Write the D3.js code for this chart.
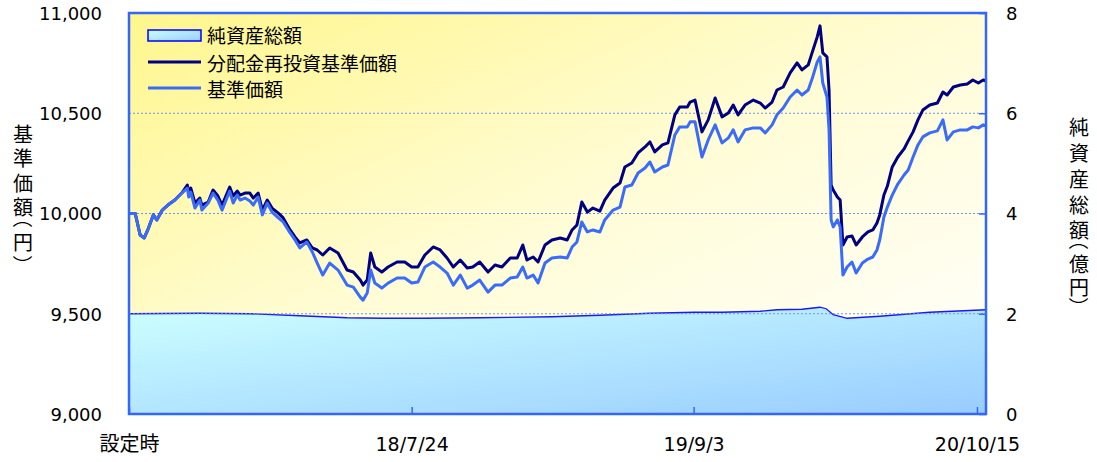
<!DOCTYPE html>
<html>
<head>
<meta charset="utf-8">
<script src="https://cdn.jsdelivr.net/npm/d3@7"></script>
<style>
  body { margin: 0; background: #fff; }
  text { font-family: "DejaVu Sans", "Noto Sans CJK JP", sans-serif; fill: #000; }
  .jp { font-family: "Noto Sans CJK JP", sans-serif; }
</style>
</head>
<body>
<div id="visualization"></div>
<script>
// data
var dates = ['2017-06-12','2017-06-21','2017-06-28','2017-07-04','2017-07-09','2017-07-17','2017-07-22','2017-07-30','2017-08-07','2017-08-17',
  '2017-08-27','2017-09-04','2017-09-06','2017-09-09','2017-09-15','2017-09-22','2017-09-25','2017-10-04','2017-10-11','2017-10-18',
  '2017-10-24','2017-11-04','2017-11-09','2017-11-15','2017-11-19','2017-11-26','2017-12-03','2017-12-08','2017-12-15','2017-12-21',
  '2017-12-28','2018-01-04','2018-01-13','2018-01-20','2018-01-30','2018-02-06','2018-02-13','2018-02-23','2018-03-03','2018-03-10',
  '2018-03-18','2018-03-28','2018-04-09','2018-04-22','2018-05-01','2018-05-11','2018-05-15','2018-05-21','2018-05-26','2018-06-01',
  '2018-06-11','2018-06-20','2018-07-03','2018-07-14','2018-07-24','2018-08-02','2018-08-12','2018-08-24','2018-09-03','2018-09-13',
  '2018-09-22','2018-10-02','2018-10-12','2018-10-20','2018-10-30','2018-11-11','2018-11-21','2018-12-01','2018-12-13','2018-12-23',
  '2018-12-31','2019-01-06','2019-01-15','2019-01-22','2019-02-01','2019-02-11','2019-02-23','2019-03-05','2019-03-12','2019-03-19',
  '2019-03-26','2019-04-03','2019-04-11','2019-04-21','2019-04-28','2019-05-10','2019-05-20','2019-05-27','2019-06-06','2019-06-15',
  '2019-06-25','2019-07-02','2019-07-09','2019-07-20','2019-07-28','2019-08-07','2019-08-14','2019-08-25','2019-08-29','2019-09-05',
  '2019-09-15','2019-09-24','2019-10-04','2019-10-14','2019-10-23','2019-10-30','2019-11-06','2019-11-16','2019-11-28','2019-12-08',
  '2019-12-15','2019-12-25','2020-01-01','2020-01-10','2020-01-20','2020-01-30','2020-02-06','2020-02-15','2020-02-21','2020-02-28',
  '2020-03-03','2020-03-07','2020-03-13','2020-03-16','2020-03-19','2020-03-22','2020-03-28','2020-04-01','2020-04-05','2020-04-11',
  '2020-04-18','2020-04-24','2020-05-03','2020-05-11','2020-05-18','2020-05-24','2020-05-28','2020-06-03','2020-06-08','2020-06-15',
  '2020-06-23','2020-07-02','2020-07-08','2020-07-15','2020-07-22','2020-07-29','2020-08-08','2020-08-19','2020-08-27','2020-09-02',
  '2020-09-11','2020-09-21','2020-10-01','2020-10-09','2020-10-17','2020-10-24','2020-10-28'];

// 分配金再投資基準価額
var reinvest = [10000,10000,9893,9878,9918,9993,9968,10017,10042,10067,
  10102,10142,10107,10127,10052,10077,10042,10057,10117,10087,
  10042,10132,10087,10112,10092,10102,10102,10077,10102,10017,
  10067,10027,10002,9978,9918,9883,9853,9868,9828,9818,
  9793,9828,9803,9718,9708,9668,9643,9668,9803,9733,
  9708,9733,9758,9758,9733,9733,9793,9833,9818,9778,
  9733,9768,9728,9733,9758,9708,9743,9733,9778,9778,
  9843,9768,9783,9758,9843,9868,9878,9868,9918,9943,
  10057,10007,10027,10012,10067,10127,10152,10232,10252,10302,
  10332,10357,10307,10342,10352,10492,10531,10531,10556,10566,
  10407,10467,10576,10482,10501,10541,10492,10541,10566,10551,
  10526,10556,10616,10631,10701,10751,10716,10741,10806,10881,
  10936,10801,10781,10616,10142,10117,10082,10067,9843,9883,
  9888,9843,9883,9908,9918,9953,9993,10092,10137,10232,
  10282,10322,10362,10407,10467,10516,10541,10551,10606,10591,
  10631,10641,10646,10666,10651,10666,10661];

// 基準価額
var nav = [10000,10000,9893,9878,9918,9993,9968,10017,10042,10067,
  10102,10127,10082,10107,10027,10067,10017,10052,10102,10067,
  10017,10112,10052,10092,10067,10077,10062,10042,10082,9993,
  10052,10007,9978,9958,9903,9868,9828,9858,9808,9753,
  9693,9753,9718,9643,9633,9583,9568,9603,9718,9653,
  9628,9653,9678,9678,9653,9658,9733,9758,9733,9703,
  9643,9693,9628,9643,9668,9608,9643,9643,9678,9683,
  9733,9678,9693,9653,9753,9778,9783,9778,9833,9858,
  9958,9908,9918,9908,9968,10017,10032,10132,10142,10202,
  10227,10257,10207,10232,10242,10392,10432,10432,10457,10457,
  10282,10367,10442,10352,10377,10417,10357,10417,10427,10427,
  10402,10442,10492,10526,10581,10616,10591,10616,10676,10756,
  10781,10651,10581,10417,9968,9933,9968,9933,9693,9733,
  9758,9703,9753,9773,9783,9818,9868,9983,10032,10092,
  10147,10192,10217,10282,10342,10382,10402,10412,10467,10367,
  10407,10417,10417,10432,10427,10442,10437];

// 純資産総額（億円）
var assetDates = ['2017-06-12','2017-09-22','2017-12-03','2018-02-13','2018-04-22','2018-06-11','2018-08-12','2018-10-30',
  '2019-02-11','2019-04-21','2019-07-02','2019-09-05','2019-10-14','2019-12-08','2020-01-01','2020-02-06',
  '2020-03-03','2020-03-12','2020-03-22','2020-04-11','2020-05-28','2020-08-08','2020-10-28'];
var assets = [2.00,2.01,2.00,1.96,1.92,1.91,1.91,1.92,
  1.94,1.97,2.01,2.03,2.03,2.05,2.08,2.09,
  2.13,2.10,1.98,1.91,1.95,2.03,2.08];

var yTicks = [9000, 9500, 10000, 10500, 11000];
var gridTicks = [9500, 10000, 10500];
var y2Ticks = [0, 2, 4, 6, 8];
var xTickDates = ['2017-06-12', '2018-07-24', '2019-09-03', '2020-10-15'];
var xTickLabels = ['設定時', '18/7/24', '19/9/3', '20/10/15'];
var legendLabels = ['純資産総額', '分配金再投資基準価額', '基準価額'];
var leftTitle = ['基', '準', '価', '額', '（', '円', '）'];
var rightTitle = ['純', '資', '産', '総', '額', '（', '億', '円', '）'];

var width = 1097;
var height = 462;
var pLeft = 129, pRight = 986, pTop = 13, pBottom = 414;
var blue = '#3366ff';

var parse = d3.timeParse('%Y-%m-%d');

var x = d3.scaleTime()
  .domain([parse('2017-06-12'), parse('2020-10-28')])
  .range([pLeft, pRight]);
var y = d3.scaleLinear().domain([9000, 11000]).range([pBottom, pTop]);
var y2 = d3.scaleLinear().domain([0, 8]).range([pBottom, pTop]);

var svg = d3.select('#visualization').append('svg')
  .attr('width', width)
  .attr('height', height);

var defs = svg.append('defs');

var bg = defs.append('linearGradient').attr('id', 'bg')
  .attr('x1', 0).attr('y1', 0).attr('x2', 1).attr('y2', 1);
bg.append('stop').attr('offset', 0).attr('stop-color', '#fff68c');
bg.append('stop').attr('offset', 0.5).attr('stop-color', '#fffcd6');
bg.append('stop').attr('offset', 1).attr('stop-color', '#ffffff');

var ag = defs.append('linearGradient').attr('id', 'ag')
  .attr('x1', 0).attr('y1', 0).attr('x2', 1).attr('y2', 1);
ag.append('stop').attr('offset', 0).attr('stop-color', '#ccffff');
ag.append('stop').attr('offset', 1).attr('stop-color', '#99ccff');

// plot background
svg.append('rect')
  .attr('x', pLeft).attr('y', pTop)
  .attr('width', pRight - pLeft).attr('height', pBottom - pTop)
  .attr('fill', 'url(#bg)');

// net assets area
var assetData = assetDates.map(function(d, i) { return { date: parse(d), v: assets[i] }; });

var area = d3.area()
  .x(function(d) { return x(d.date); })
  .y0(pBottom)
  .y1(function(d) { return y2(d.v); });

svg.append('path')
  .datum(assetData)
  .attr('d', area)
  .attr('fill', 'url(#ag)');

svg.append('path')
  .datum(assetData)
  .attr('d', d3.line().x(function(d) { return x(d.date); }).y(function(d) { return y2(d.v); }))
  .attr('fill', 'none')
  .attr('stroke', '#1a1aee')
  .attr('stroke-width', 1.3);

// grid
svg.append('g').selectAll('line')
  .data(gridTicks)
  .enter().append('line')
  .attr('x1', pLeft).attr('x2', pRight)
  .attr('y1', function(d) { return y(d); })
  .attr('y2', function(d) { return y(d); })
  .attr('stroke', '#6f93f0')
  .attr('stroke-width', 1)
  .attr('stroke-dasharray', '2,2');

// price lines
var series = dates.map(function(d, i) { return { date: parse(d), r: reinvest[i], n: nav[i] }; });

svg.append('path')
  .datum(series)
  .attr('d', d3.line().x(function(d) { return x(d.date); }).y(function(d) { return y(d.r); }))
  .attr('fill', 'none')
  .attr('stroke', '#000080')
  .attr('stroke-width', 3)
  .attr('stroke-linejoin', 'round');

svg.append('path')
  .datum(series)
  .attr('d', d3.line().x(function(d) { return x(d.date); }).y(function(d) { return y(d.n); }))
  .attr('fill', 'none')
  .attr('stroke', '#3a6cf8')
  .attr('stroke-width', 3)
  .attr('stroke-linejoin', 'round');

// axes
var yAxis = svg.append('g')
  .attr('transform', 'translate(' + pLeft + ',0)')
  .call(d3.axisLeft(y).tickValues(yTicks).tickFormat(d3.format(',')).tickSize(0).tickPadding(27));
yAxis.select('.domain').remove();
yAxis.selectAll('text').attr('font-size', 18).attr('font-family', 'DejaVu Sans').attr('dy', '0.36em');

var y2Axis = svg.append('g')
  .attr('transform', 'translate(' + pRight + ',0)')
  .call(d3.axisRight(y2).tickValues(y2Ticks).tickSizeInner(-7).tickSizeOuter(0).tickPadding(20));
y2Axis.select('.domain').remove();
y2Axis.selectAll('line').attr('stroke', blue).attr('stroke-width', 1.5);
y2Axis.selectAll('text').attr('font-size', 18).attr('font-family', 'DejaVu Sans').attr('dy', '0.36em');

var xAxis = svg.append('g')
  .attr('transform', 'translate(0,' + pBottom + ')')
  .call(d3.axisBottom(x)
    .tickValues(xTickDates.map(parse))
    .tickFormat(function(d, i) { return xTickLabels[i]; })
    .tickSizeInner(-7).tickSizeOuter(0).tickPadding(0));
xAxis.select('.domain').remove();
xAxis.selectAll('line').attr('stroke', blue).attr('stroke-width', 1.5);
xAxis.selectAll('text')
  .attr('y', 30).attr('dy', '0.36em')
  .attr('font-size', function(d, i) { return i == 0 ? 20 : 19; })
  .attr('font-family', function(d, i) { return i == 0 ? 'Noto Sans CJK JP' : 'DejaVu Sans'; });

// frame
svg.append('rect')
  .attr('x', pLeft).attr('y', pTop)
  .attr('width', pRight - pLeft).attr('height', pBottom - pTop)
  .attr('fill', 'none')
  .attr('stroke', blue)
  .attr('stroke-width', 2.5);

// axis titles, one character per row; brackets turned for vertical text
function verticalTitle(chars, cx, ys) {
  svg.append('g').selectAll('text')
    .data(chars)
    .enter().append('text')
    .attr('class', 'jp')
    .attr('x', cx)
    .attr('y', function(d, i) { return ys[i]; })
    .attr('text-anchor', 'middle')
    .attr('dominant-baseline', 'central')
    .attr('font-size', 20)
    .attr('transform', function(d, i) {
      return (d == '（' || d == '）') ? 'rotate(90,' + cx + ',' + ys[i] + ')' : null;
    })
    .text(function(d) { return d; });
}

verticalTitle(leftTitle, 23, [133, 157, 182, 206, 218, 241, 265]);
verticalTitle(rightTitle, 1079, [126, 152, 178, 204, 229, 240, 263, 286, 307]);

// legend
var legend = svg.append('g').attr('transform', 'translate(148,0)');
legend.append('rect')
  .attr('x', 0).attr('y', 30)
  .attr('width', 53).attr('height', 11)
  .attr('fill', 'url(#ag)')
  .attr('stroke', '#0000ff')
  .attr('stroke-width', 1.5);
legend.append('line')
  .attr('x1', 0).attr('x2', 53).attr('y1', 62).attr('y2', 62)
  .attr('stroke', '#000080').attr('stroke-width', 3);
legend.append('line')
  .attr('x1', 0).attr('x2', 53).attr('y1', 88).attr('y2', 88)
  .attr('stroke', '#3a6cf8').attr('stroke-width', 3);
legend.selectAll('text.lg')
  .data(legendLabels)
  .enter().append('text')
  .attr('class', 'jp lg')
  .attr('x', 59)
  .attr('y', function(d, i) { return [34, 62, 88][i]; })
  .attr('dominant-baseline', 'central')
  .attr('font-size', 19)
  .text(function(d) { return d; });
</script>
</body>
</html>
